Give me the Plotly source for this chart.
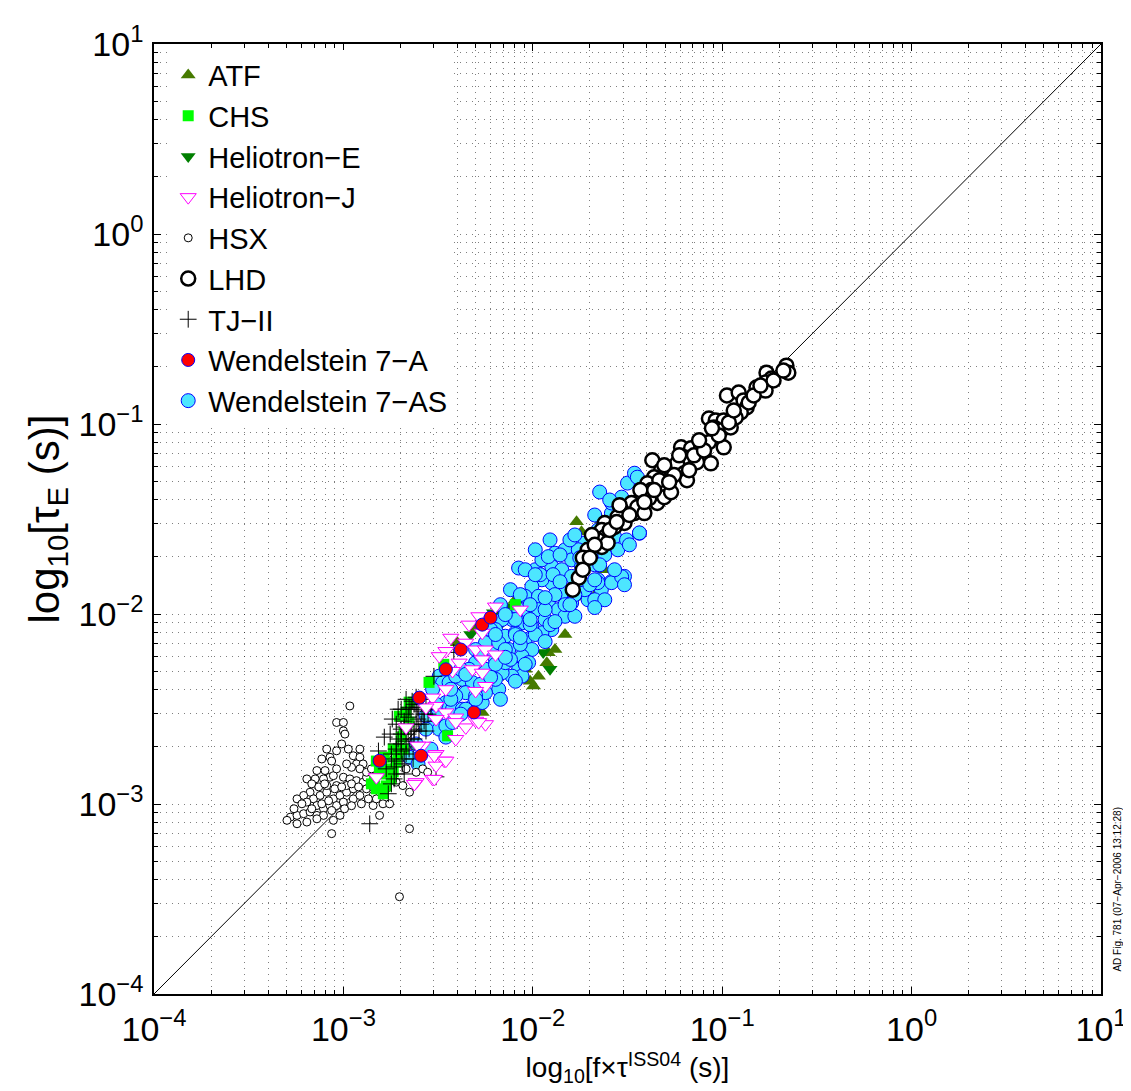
import numpy as np
import plotly.graph_objects as go

# ---- data: (log10[f*tau_ISS04 (s)], log10[tau_E (s)]) ----
ATF = [(-1.769, -1.514), (-1.743, -1.567), (-1.638, -1.505), (-1.725, -1.631), (-1.926, -2.256),
       (-1.970, -2.327), (-1.996, -2.379), (-1.918, -2.204), (-1.656, -1.881), (-1.699, -1.925),
       (-2.162, -1.994), (-2.145, -1.960), (-2.197, -2.029), (-2.267, -2.518), (-2.398, -2.151),
       (-2.302, -2.082), (-2.040, -2.291), (-2.014, -2.354), (-1.883, -2.187), (-1.830, -2.108),
       (-2.092, -1.925), (-1.620, -1.767)]

CHS = [(-2.826, -2.774), (-2.810, -2.815), (-2.836, -2.868), (-2.826, -2.920), (-2.774, -2.905),
       (-2.737, -2.831), (-2.721, -2.779), (-2.684, -2.711), (-2.669, -2.517), (-2.653, -2.569),
       (-2.737, -2.711), (-2.758, -2.815), (-2.705, -2.538), (-2.653, -2.464), (-2.092, -1.951),
       (-2.470, -2.265), (-2.450, -2.641), (-2.548, -2.360), (-2.606, -2.449),
       (-2.800, -2.842), (-2.784, -2.754), (-2.747, -2.868), (-2.711, -2.737), (-2.695, -2.648),
       (-2.679, -2.606), (-2.789, -2.946), (-2.852, -2.894)]

HELIOTRON_E = [(-2.208, -1.993), (-2.139, -1.961), (-2.171, -2.056), (-1.945, -2.202), (-1.909, -2.291),
               (-2.040, -2.040), (-2.328, -2.108), (-1.752, -1.898), (-1.830, -1.977)]

HELIOTRON_J = [(-2.285, -2.012), (-2.337, -2.056), (-2.267, -2.099), (-2.433, -2.125), (-2.459, -2.195),
               (-2.494, -2.222), (-2.354, -2.151), (-2.302, -2.187), (-2.250, -2.187), (-2.197, -2.213),
               (-2.267, -2.239), (-2.389, -2.256), (-2.424, -2.300), (-2.319, -2.291), (-2.267, -2.309),
               (-2.250, -2.379), (-2.302, -2.405), (-2.459, -2.396), (-2.529, -2.440), (-2.511, -2.484),
               (-2.459, -2.518), (-2.407, -2.545), (-2.354, -2.597), (-2.302, -2.562), (-2.250, -2.580),
               (-2.407, -2.658), (-2.564, -2.492), (-2.669, -2.597), (-2.581, -2.693), (-2.511, -2.737),
               (-2.468, -2.772), (-2.511, -2.798), (-2.529, -2.868), (-2.616, -2.885), (-2.607, -2.693),
               (-2.520, -2.746), (-2.459, -2.772), (-2.520, -2.868), (-2.625, -2.894), (-2.826, -2.859),
               (-2.511, -2.553), (-2.407, -2.569), (-2.286, -2.569), (-2.197, -1.961), (-2.066, -1.977)]

HSX = [(-2.966, -2.484), (-3.036, -2.571), (-3.000, -2.571), (-3.000, -2.615), (-2.992, -2.632),
       (-3.009, -2.684), (-3.088, -2.711), (-3.036, -2.720), (-2.974, -2.711), (-2.913, -2.711),
       (-3.071, -2.754), (-2.948, -2.746), (-2.913, -2.754), (-2.931, -2.789), (-2.896, -2.789),
       (-2.957, -2.807), (-3.140, -2.824), (-3.097, -2.824), (-3.071, -2.859), (-3.105, -2.868),
       (-3.149, -2.868), (-3.036, -2.903), (-3.000, -2.859), (-2.966, -2.868), (-2.931, -2.877),
       (-2.896, -2.885), (-2.878, -2.920), (-2.843, -2.955), (-3.176, -2.938), (-3.210, -2.955),
       (-3.158, -2.973), (-3.123, -2.955), (-3.088, -2.938), (-3.053, -2.973), (-3.018, -2.955),
       (-2.983, -2.938), (-2.948, -2.973), (-2.913, -2.955), (-3.193, -2.990), (-3.140, -3.008),
       (-3.105, -3.025), (-3.071, -3.008), (-3.036, -3.008), (-3.000, -2.990), (-3.280, -3.069),
       (-3.245, -3.060), (-3.210, -3.051), (-3.176, -3.042), (-3.245, -3.104), (-3.193, -3.095),
       (-3.140, -3.060), (-3.105, -3.060), (-3.062, -3.034), (-3.018, -3.060), (-3.053, -3.086),
       (-2.843, -3.008), (-2.791, -2.999), (-2.756, -2.999), (-2.809, -3.060), (-2.878, -2.859),
       (-2.826, -2.851), (-2.774, -2.833), (-2.738, -2.851), (-2.721, -2.885), (-2.686, -2.903),
       (-2.651, -2.938), (-2.669, -2.815), (-2.616, -2.833), (-2.581, -2.815), (-2.555, -2.833),
       (-2.651, -3.130), (-3.062, -3.156), (-2.704, -3.488), (-2.843, -2.911), (-2.809, -2.938),
       (-2.774, -2.920), (-2.983, -2.903), (-2.948, -2.920), (-3.088, -2.903), (-3.053, -2.851),
       (-2.913, -2.815), (-2.878, -2.833), (-3.298, -3.086),
       (-3.193, -2.868), (-3.167, -2.894), (-3.130, -2.910), (-3.099, -2.894), (-3.046, -2.920),
       (-3.009, -2.910), (-2.957, -2.894), (-2.920, -2.910), (-3.245, -2.973), (-3.219, -2.999),
       (-3.167, -3.025), (-3.114, -2.999), (-3.078, -2.983), (-2.994, -3.025), (-2.957, -3.009),
       (-2.905, -2.999), (-2.868, -2.973), (-2.826, -2.973), (-3.261, -3.025), (-3.140, -3.078),
       (-3.036, -2.815), (-2.983, -2.789), (-3.062, -2.774), (-3.114, -2.763), (-2.852, -2.815)]

LHD = [(-0.661, -0.693), (-0.651, -0.730), (-0.766, -0.730), (-0.740, -0.761), (-0.771, -0.782),
       (-0.819, -0.808), (-0.771, -0.824), (-0.975, -0.850), (-0.913, -0.834), (-0.887, -0.876),
       (-0.871, -0.913), (-0.902, -0.939), (-1.070, -0.971), (-1.034, -0.981), (-0.992, -0.981),
       (-1.044, -1.018), (-1.007, -1.034), (-0.955, -1.018), (-0.929, -0.966), (-1.217, -1.123),
       (-1.164, -1.128), (-1.112, -1.128), (-1.070, -1.096), (-0.992, -1.123), (-1.096, -1.175),
       (-1.060, -1.207), (-1.201, -1.175), (-1.133, -1.201), (-1.369, -1.191), (-1.322, -1.243),
       (-1.359, -1.280), (-1.270, -1.243), (-1.238, -1.207), (-1.291, -1.333), (-1.201, -1.259),
       (-1.186, -1.296), (-1.395, -1.312), (-1.374, -1.348), (-1.411, -1.374), (-1.448, -1.411),
       (-1.479, -1.416), (-1.343, -1.416), (-1.306, -1.385), (-1.270, -1.359), (-1.427, -1.453),
       (-1.532, -1.453), (-1.553, -1.490), (-1.516, -1.521), (-1.464, -1.469), (-1.448, -1.437),
       (-1.620, -1.521), (-1.636, -1.558), (-1.620, -1.595), (-1.657, -1.610), (-1.636, -1.647),
       (-1.605, -1.626), (-1.568, -1.542), (-1.757, -1.809), (-1.789, -1.872), (-1.411, -1.469),
       (-1.710, -1.662), (-1.736, -1.704), (-1.688, -1.584),
       (-1.542, -1.427), (-1.490, -1.479), (-1.385, -1.390), (-1.332, -1.296), (-1.254, -1.269),
       (-1.149, -1.165), (-1.096, -1.139), (-1.018, -1.060), (-0.965, -0.992), (-0.860, -0.887),
       (-0.834, -0.850), (-0.729, -0.771), (-0.677, -0.719), (-1.594, -1.558), (-1.673, -1.636),
       (-1.557, -1.516), (-1.432, -1.348), (-1.306, -1.217), (-1.227, -1.165), (-1.122, -1.086),
       (-1.054, -1.023), (-0.939, -0.929), (-0.798, -0.798), (-1.359, -1.348), (-1.411, -1.411),
       (-1.175, -1.243), (-1.280, -1.306), (-1.736, -1.767), (-1.699, -1.704)]

TJ_II = [(-2.861, -3.104), (-2.774, -2.815), (-2.747, -2.763), (-2.721, -2.711), (-2.711, -2.658),
         (-2.695, -2.606), (-2.679, -2.564), (-2.669, -2.527), (-2.653, -2.491), (-2.637, -2.459),
         (-2.616, -2.501), (-2.606, -2.553), (-2.627, -2.606), (-2.643, -2.658), (-2.669, -2.737),
         (-2.690, -2.789), (-2.721, -2.842), (-2.747, -2.894), (-2.695, -2.684), (-2.658, -2.632),
         (-2.590, -2.580), (-2.574, -2.527), (-2.564, -2.475), (-2.590, -2.449), (-2.616, -2.438),
         (-2.538, -2.501), (-2.564, -2.616), (-2.606, -2.700), (-2.632, -2.763), (-2.763, -2.946),
         (-2.732, -2.868), (-2.679, -2.842), (-2.511, -2.857), (-2.417, -2.202), (-2.522, -2.328),
         (-2.711, -2.501), (-2.742, -2.553), (-2.784, -2.648), (-2.815, -2.721),
         (-2.747, -2.737), (-2.721, -2.684), (-2.695, -2.632), (-2.679, -2.595), (-2.658, -2.543),
         (-2.643, -2.501), (-2.627, -2.475), (-2.606, -2.491), (-2.585, -2.511), (-2.616, -2.580),
         (-2.643, -2.616), (-2.669, -2.669), (-2.695, -2.721), (-2.721, -2.774), (-2.732, -2.805),
         (-2.679, -2.763), (-2.653, -2.711), (-2.627, -2.658), (-2.601, -2.616), (-2.574, -2.564),
         (-2.553, -2.527), (-2.669, -2.449), (-2.695, -2.501), (-2.721, -2.580), (-2.753, -2.632)]

W7_A = [(-2.267, -2.056), (-2.311, -2.518), (-2.599, -2.440), (-2.590, -2.746), (-2.809, -2.772),
        (-2.459, -2.291), (-2.380, -2.187), (-2.223, -2.019)]

W7_AS = [(-1.585, -1.470), (-1.551, -1.523), (-1.656, -1.558), (-1.568, -1.593), (-1.437, -1.575),
         (-1.551, -1.662), (-1.516, -1.802), (-1.533, -1.820), (-1.585, -1.829), (-1.656, -1.820),
         (-1.725, -1.872), (-1.708, -1.925), (-1.638, -1.872), (-1.795, -1.942), (-1.847, -1.889),
         (-1.900, -1.837), (-1.952, -1.820), (-2.005, -1.855), (-2.040, -1.907), (-1.970, -1.907),
         (-1.918, -1.942), (-1.865, -1.977), (-1.830, -2.012), (-1.778, -2.012), (-2.075, -1.758),
         (-1.883, -1.680), (-1.830, -1.662), (-1.795, -1.715), (-1.743, -1.750), (-1.725, -1.627),
         (-1.690, -1.698), (-1.760, -1.662), (-1.900, -1.750), (-1.847, -1.767), (-1.795, -1.802),
         (-1.987, -1.767), (-1.952, -1.715), (-1.918, -1.698),
         (-2.075, -1.977), (-2.022, -1.994), (-1.970, -1.977), (-1.935, -2.029), (-1.900, -2.082),
         (-1.952, -2.099), (-2.005, -2.064), (-2.057, -2.047), (-2.110, -2.029), (-2.162, -2.029),
         (-2.197, -2.082), (-2.145, -2.117), (-2.092, -2.099), (-2.040, -2.134), (-2.005, -2.187),
         (-2.057, -2.222), (-2.022, -2.256), (-2.075, -2.291), (-2.057, -2.327), (-2.110, -2.327),
         (-2.162, -2.309), (-2.145, -2.256), (-2.197, -2.239), (-2.214, -2.187), (-2.250, -2.151),
         (-2.180, -2.151), (-2.127, -2.187),
         (-2.180, -2.396), (-2.197, -2.344), (-2.250, -2.291), (-2.302, -2.256), (-2.337, -2.291),
         (-2.372, -2.344), (-2.319, -2.361), (-2.354, -2.414), (-2.407, -2.431), (-2.459, -2.466),
         (-2.424, -2.501), (-2.372, -2.501), (-2.319, -2.484), (-2.267, -2.466), (-2.250, -2.414),
         (-2.302, -2.431), (-2.494, -2.327), (-2.476, -2.361), (-2.529, -2.396), (-2.442, -2.361),
         (-2.407, -2.327), (-2.529, -2.571), (-2.494, -2.606), (-2.459, -2.589), (-2.511, -2.536),
         (-2.564, -2.536), (-2.424, -2.571), (-2.651, -2.754),
         (-1.647, -1.358), (-1.500, -1.311), (-1.463, -1.259), (-1.448, -1.280), (-1.584, -1.416),
         (-1.531, -1.385), (-1.505, -1.610), (-1.437, -1.573), (-1.584, -1.835), (-1.531, -1.804),
         (-1.516, -1.846), (-1.657, -1.835), (-1.673, -1.925), (-1.725, -1.872),
         (-2.040, -1.767), (-1.961, -1.793), (-1.883, -1.898), (-1.935, -1.977), (-2.014, -1.951),
         (-2.092, -2.029), (-2.145, -2.187), (-2.066, -2.160), (-1.987, -2.108), (-1.909, -2.056),
         (-1.830, -1.951), (-1.752, -1.820), (-1.673, -1.741), (-1.620, -1.689), (-1.804, -1.610),
         (-1.909, -1.610), (-1.987, -1.662), (-2.118, -1.872), (-2.171, -1.951), (-2.223, -2.082),
         (-2.302, -2.187), (-2.380, -2.291), (-2.433, -2.449), (-2.354, -2.501), (-2.276, -2.370),
         (-2.197, -2.265), (-2.118, -2.239), (-2.092, -2.108), (-2.014, -2.056), (-1.699, -1.846),
         (-1.620, -1.925), (-1.778, -1.898), (-1.893, -1.793),
         (-1.594, -1.400), (-1.490, -1.427), (-1.411, -1.348), (-1.673, -1.479), (-1.516, -1.479),
         (-1.778, -1.584), (-1.620, -1.610), (-1.490, -1.636), (-1.856, -1.689), (-1.752, -1.704),
         (-1.647, -1.741), (-1.987, -1.793), (-1.856, -1.830), (-1.673, -1.820), (-1.568, -1.767),
         (-2.066, -1.898), (-1.935, -1.914), (-1.804, -1.951), (-1.673, -1.966), (-2.145, -2.003),
         (-2.014, -2.029), (-1.883, -2.040), (-2.197, -2.108), (-2.066, -2.124), (-1.935, -2.145),
         (-2.276, -2.213), (-2.145, -2.228), (-2.040, -2.265), (-2.354, -2.318), (-2.223, -2.333),
         (-2.092, -2.354), (-2.433, -2.396), (-2.302, -2.449), (-2.171, -2.449), (-2.511, -2.475),
         (-2.380, -2.527), (-2.564, -2.606), (-2.459, -2.648), (-2.616, -2.684), (-2.538, -2.711),
         (-2.606, -2.789)]

DIAGONAL = [1e-4, 1e1]

DECADES = [-4, -3, -2, -1, 0, 1]
TICK_LABELS = ["10<sup>\u22124</sup>", "10<sup>\u22123</sup>", "10<sup>\u22122</sup>",
               "10<sup>\u22121</sup>", "10<sup>0</sup>", "10<sup>1</sup>"]

FONT = "Liberation Sans, Arial, Helvetica"


def xy(points):
    a = np.array(points)
    return 10 ** a[:, 0], 10 ** a[:, 1]


fig = go.Figure()

# identity line tau_E = f*tau_ISS04
fig.add_trace(go.Scatter(x=DIAGONAL, y=DIAGONAL, mode="lines",
                         line=dict(color="black", width=1), showlegend=False, hoverinfo="skip"))

series = [
    # (name, data, marker, legendrank) -- drawn in this order, legend ordered by rank
    ("ATF", ATF, dict(symbol="triangle-up", size=13, color="#467A00", line=dict(width=0)), 1),
    ("Heliotron\u2212E", HELIOTRON_E, dict(symbol="triangle-down", size=13, color="#007F00", line=dict(width=0)), 3),
    ("Wendelstein 7\u2212AS", W7_AS, dict(symbol="circle", size=14, color="#4DE6FF", line=dict(color="#0000FF", width=1)), 9),
    ("LHD", LHD, dict(symbol="circle", size=14, color="white", line=dict(color="black", width=2.5)), 6),
    ("HSX", HSX, dict(symbol="circle", size=8, color="white", line=dict(color="black", width=1)), 5),
    ("CHS", CHS, dict(symbol="square", size=11, color="#00FF00", line=dict(width=0)), 2),
    ("TJ\u2212II", TJ_II, dict(symbol="cross-thin", size=12, color="black", line=dict(color="black", width=1)), 7),
    ("Heliotron\u2212J", HELIOTRON_J, dict(symbol="triangle-down", size=14, color="white", line=dict(color="#FF00FF", width=1)), 4),
    ("Wendelstein 7\u2212A", W7_A, dict(symbol="circle", size=13, color="#FF0000", line=dict(color="#0000FF", width=1)), 8),
]
for name, data, marker, rank in series:
    x, y = xy(data)
    fig.add_trace(go.Scatter(x=x, y=y, mode="markers", name=name, marker=marker,
                             legendrank=rank, legendgroup=name))

minor_vals = [m * 10.0 ** d for d in DECADES[:-1] for m in range(2, 10)]
grid_style = dict(showgrid=True, gridcolor="rgba(0,0,0,0.5)", gridwidth=1, griddash="1px,5px")
axis_common = dict(
    type="log", range=[-4, 1], tickmode="array",
    tickvals=[10.0 ** d for d in DECADES], ticktext=TICK_LABELS,
    showline=True, linecolor="black", linewidth=1.5, mirror="allticks",
    ticks="inside", ticklen=7, tickcolor="black", tickwidth=1,
    tickfont=dict(size=34, family=FONT, color="black"),
    zeroline=False,
    minor=dict(tickmode="array", tickvals=minor_vals, ticks="inside", ticklen=4,
               tickcolor="black", **grid_style),
    **grid_style,
)

fig.update_xaxes(**axis_common, ticklabelstandoff=4,
                 title=dict(text="log<sub>10</sub>[f\u00d7\u03c4<sup>ISS04</sup> (s)]",
                            font=dict(size=28, family=FONT, color="black"),
                            standoff=2))
fig.update_yaxes(**axis_common, ticklabelstandoff=2,
                 title=dict(text="log<sub>10</sub>[\u03c4<sub>E</sub> (s)]",
                            font=dict(size=42, family=FONT, color="black"),
                            standoff=6))

fig.add_annotation(text="AD Fig. 781 (07\u2212Apr\u22122006 13:12:28)", xref="paper", yref="paper",
                   x=1.017, y=0.11, xanchor="center", yanchor="middle", textangle=-90,
                   showarrow=False, font=dict(size=10, family=FONT, color="black"))

fig.update_layout(
    width=1131, height=1091,
    margin=dict(l=146, r=31, t=32, b=105),
    plot_bgcolor="white", paper_bgcolor="white",
    font=dict(family=FONT, color="black"),
    showlegend=True,
    legend=dict(x=0.015, y=0.994, xanchor="left", yanchor="top", bgcolor="white",
                borderwidth=0, font=dict(size=29, family=FONT, color="black"),
                tracegroupgap=0, itemwidth=30),
)

fig.write_html("out.html")
